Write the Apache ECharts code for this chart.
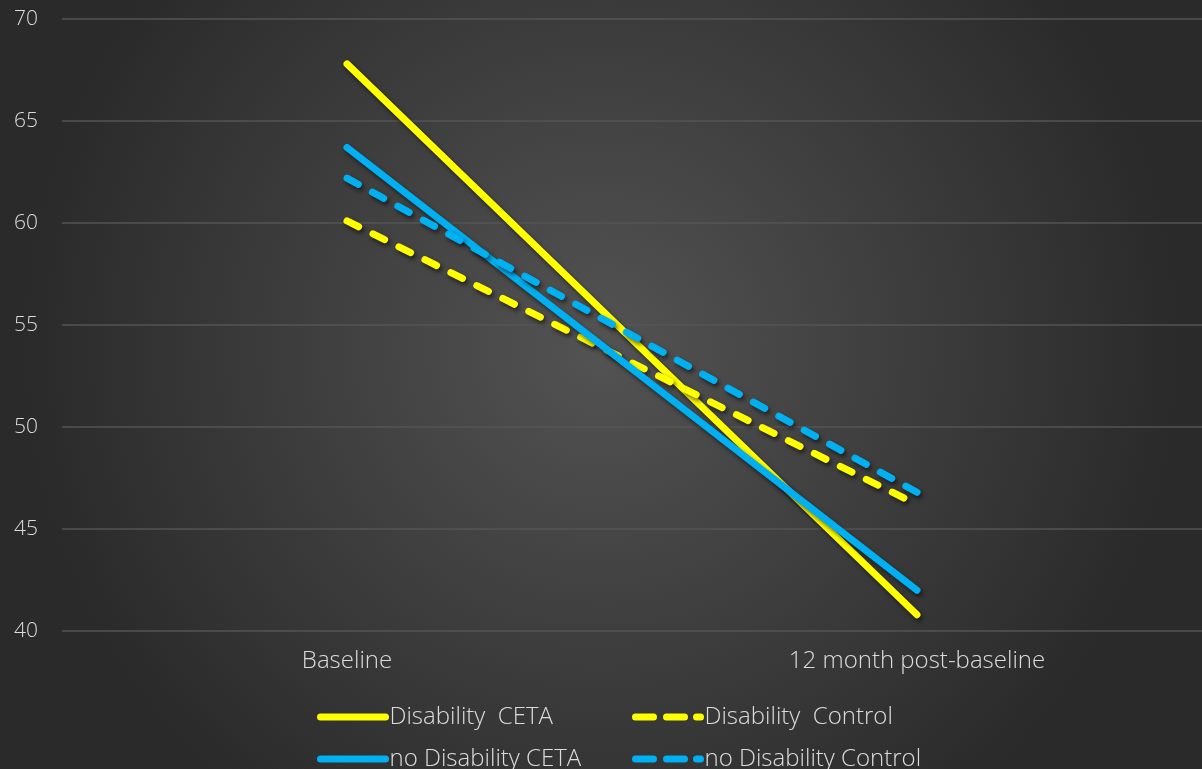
<!DOCTYPE html>
<html><head><meta charset="utf-8">
<script src="https://cdn.jsdelivr.net/npm/echarts@6/dist/echarts.min.js"></script>
<style>html,body{margin:0;padding:0;background:#333}#c{width:1202px;height:769px}</style>
</head><body><div id="c"></div>
<script>
const categories = ['Baseline', '12 month post-baseline'];
const disabilityCETA = [67.8, 40.8];
const disabilityControl = [60.1, 46.2];
const noDisabilityCETA = [63.7, 42.0];
const noDisabilityControl = [62.2, 46.8];
const seriesNames = ['Disability  CETA', 'Disability  Control', 'no Disability CETA', 'no Disability Control'];

const FONT = '"Open Sans", "DejaVu Sans", sans-serif';
const TXT = '#dcdcdc';
const YELLOW = '#FFFF00', BLUE = '#00B0F0';
const shadow = {shadowColor: 'rgba(0,0,0,0.55)', shadowBlur: 4, shadowOffsetX: 2, shadowOffsetY: 3};
function mk(name, data, color, dashed) {
  return {
    name, type: 'line', data, symbol: 'none', z: 3,
    lineStyle: Object.assign({color, width: 7, cap: 'round', type: dashed ? [13, 16] : 'solid'}, shadow),
    itemStyle: {color}
  };
}
// legend icons (72 x 7 units)
const solidIcon = 'path://M3.5,0 L68.5,0 A3.5,3.5 0 0 1 68.5,7 L3.5,7 A3.5,3.5 0 0 1 3.5,0 Z';
function seg(a, b) { return 'M' + (a + 3.5) + ',0 L' + (b - 3.5) + ',0 A3.5,3.5 0 0 1 ' + (b - 3.5) + ',7 L' + (a + 3.5) + ',7 A3.5,3.5 0 0 1 ' + (a + 3.5) + ',0 Z '; }
const dashIcon = 'path://' + seg(0, 25) + seg(31, 56) + seg(61, 72);
function leg(name, icon, left, top) {
  return {data: [{name, icon}], left, top, itemWidth: 73, itemHeight: 7, itemGap: 0,
    textStyle: {color: TXT, fontSize: 24, fontFamily: FONT, fontWeight: 300, padding: [0, 0, 0, -5]}};
}
const chart = echarts.init(document.getElementById('c'));
chart.setOption({
  backgroundColor: {type: 'radial', x: 0.5, y: 0.45, r: 0.75, colorStops: [{offset: 0, color: '#535353'}, {offset: 1, color: '#2a2a2a'}]},
  animation: false,
  grid: {left: 62, right: -10, top: 19, bottom: 138},
  xAxis: {type: 'category', data: categories, boundaryGap: true,
    axisLine: {show: false}, axisTick: {show: false},
    axisLabel: {color: TXT, fontSize: 24, fontFamily: FONT, fontWeight: 300, margin: 18}},
  yAxis: {type: 'value', min: 40, max: 70, interval: 5,
    axisLine: {show: false}, axisTick: {show: false},
    splitLine: {lineStyle: {color: '#555555', width: 1.5}},
    axisLabel: {color: TXT, fontSize: 21, fontFamily: FONT, fontWeight: 300, margin: 24}},
  legend: [
    leg(seriesNames[0], solidIcon, 312, 700),
    leg(seriesNames[1], dashIcon, 627, 700),
    leg(seriesNames[2], solidIcon, 312, 742),
    leg(seriesNames[3], dashIcon, 627, 742)
  ],
  series: [
    mk(seriesNames[0], disabilityCETA, YELLOW, false),
    mk(seriesNames[1], disabilityControl, YELLOW, true),
    mk(seriesNames[2], noDisabilityCETA, BLUE, false),
    mk(seriesNames[3], noDisabilityControl, BLUE, true)
  ]
});
</script></body></html>
